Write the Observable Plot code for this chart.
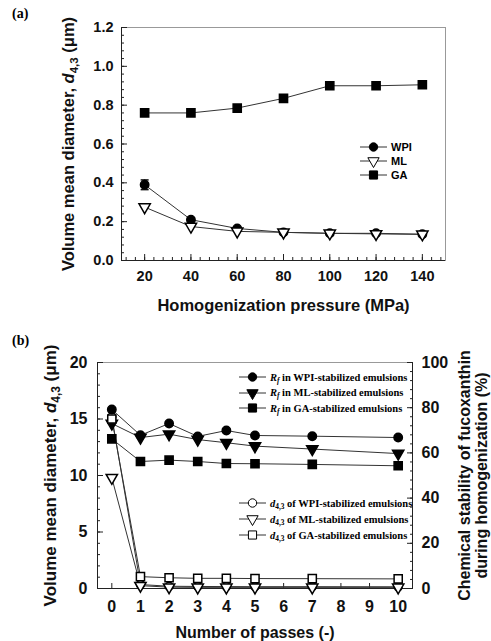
<!DOCTYPE html>
<html><head><meta charset="utf-8">
<script src="https://cdn.jsdelivr.net/npm/d3@7"></script>
<script src="https://cdn.jsdelivr.net/npm/@observablehq/plot@0.6"></script>
<style>
body{margin:0;background:#fff;}
#wrap{position:relative;width:491px;height:641px;overflow:hidden;background:#fff;}
#wrap svg{display:block;}
.panel{position:absolute;left:12px;font-family:"Liberation Serif","Times New Roman",serif;font-weight:bold;font-size:14px;}
.row{position:absolute;display:flex;align-items:center;white-space:nowrap;height:14px;}
.row svg{flex:none;}
.sans{font-family:"Liberation Sans",Arial,sans-serif;font-weight:bold;font-size:11px;}
.serif{font-family:"Liberation Serif","Times New Roman",serif;font-weight:bold;font-size:10.5px;}
sub{font-size:70%;vertical-align:-2px;line-height:0;}
</style></head><body><div id="wrap"></div><script>
// ---------- Data (a) ----------
const pressure = [20, 40, 60, 80, 100, 120, 140];
const wpiA = [0.39, 0.21, 0.165, 0.145, 0.14, 0.14, 0.135];
const wpiAErr = [0.025, 0.008, 0.005, 0, 0, 0, 0];
const mlA = [0.275, 0.175, 0.15, 0.145, 0.14, 0.137, 0.135];
const gaA = [0.76, 0.76, 0.785, 0.835, 0.9, 0.9, 0.905];
const xTicksA = [20, 40, 60, 80, 100, 120, 140];
const yTicksA = [0, 0.2, 0.4, 0.6, 0.8, 1.0, 1.2];
const seriesA = ["WPI", "ML", "GA"];

// ---------- Data (b) ----------
const passes = [0, 1, 2, 3, 4, 5, 7, 10];
const rfWPI = [79.2, 67.8, 73.0, 67.3, 69.9, 67.7, 67.4, 66.8];
const rfML = [73.0, 66.8, 68.3, 65.9, 64.5, 63.0, 61.7, 59.7];
const rfGA = [66.2, 56.2, 56.8, 56.2, 55.3, 55.2, 54.9, 54.3];
const dWPI = [15.2, 0.35, 0.2, 0.18, 0.17, 0.16, 0.16, 0.15];
const dML = [9.8, 0.25, 0.12, 0.1, 0.1, 0.1, 0.1, 0.1];
const dGA = [15.0, 1.05, 0.95, 0.9, 0.9, 0.88, 0.87, 0.85];
const xTicksB = [0, 1, 2, 3, 4, 5, 6, 7, 8, 9, 10];
const yTicksB = [0, 5, 10, 15, 20];
const rfTicks = [0, 20, 40, 60, 80, 100];
const legendB1 = ["WPI", "ML", "GA"];

// ---------- symbols ----------
const triDown = {draw(ctx, size) {
  const y = -Math.sqrt(size / (Math.sqrt(3) * 3));
  ctx.moveTo(0, -y * 2); ctx.lineTo(-Math.sqrt(3) * y, y); ctx.lineTo(Math.sqrt(3) * y, y); ctx.closePath();
}};
const capSym = {draw(ctx, size) { ctx.moveTo(-4, 0); ctx.lineTo(4, 0); }};

const wrap = document.getElementById("wrap");
const sansFont = '"Liberation Sans", Arial, sans-serif';
const lineColor = "#333";
const yLabelText = "Volume mean diameter, d4,3 (\u03bcm)";

function richLabel(svg, content, parts) {
  const t = Array.from(svg.querySelectorAll("text")).find(e => e.textContent === content);
  if (!t) return;
  t.textContent = "";
  for (const p of parts) {
    const ts = document.createElementNS("http://www.w3.org/2000/svg", "tspan");
    ts.textContent = p.t;
    if (p.i) ts.setAttribute("font-style", "italic");
    if (p.sub) { ts.setAttribute("font-size", "70%"); ts.setAttribute("dy", "4"); }
    if (p.up) ts.setAttribute("dy", "-4");
    t.appendChild(ts);
  }
}
const dLabel = [{t: "Volume mean diameter, "}, {t: "d", i: true}, {t: "4,3", sub: true}, {t: " (\u03bcm)", up: true}];

// ---------- Panel (a) ----------
const rowsA = [];
pressure.forEach((p, i) => {
  rowsA.push({x: p, y: wpiA[i], s: "WPI", e: wpiAErr[i]});
  rowsA.push({x: p, y: mlA[i], s: "ML", e: 0});
  rowsA.push({x: p, y: gaA[i], s: "GA", e: 0});
});
const xDomA = [10, 150], yDomA = [0, 1.2];
const plotA = Plot.plot({
  width: 491, height: 320,
  marginLeft: 121, marginRight: 46, marginTop: 27, marginBottom: 60,
  x: {domain: xDomA}, y: {domain: yDomA},
  style: {fontFamily: sansFont, background: "white", overflow: "visible"},
  marks: [
    Plot.frame({stroke: "#999"}),
    Plot.ruleX([xDomA[0]], {stroke: "#222"}),
    Plot.ruleY([yDomA[0]], {stroke: "#222"}),
    Plot.axisY(d3.range(0, 1.2001, 0.04), {tickSize: -3, fill: "none", stroke: "#222"}),
    Plot.axisY(yTicksA, {tickSize: -6, fill: "none", stroke: "#222"}),
    Plot.axisY(yTicksA, {tickSize: 0, tickPadding: 8, label: null, tickFormat: d3.format(".1f"), fontSize: 14.5, fontWeight: "bold", fill: "#111"}),
    Plot.axisX(d3.range(12, 150, 4), {tickSize: -3, fill: "none", stroke: "#222"}),
    Plot.axisX(xTicksA, {tickSize: -6, fill: "none", stroke: "#222"}),
    Plot.axisX(xTicksA, {tickSize: 0, tickPadding: 10, label: null, fontSize: 14.5, fontWeight: "bold", fill: "#111"}),
    Plot.text([yLabelText], {frameAnchor: "left", textAnchor: "middle", lineAnchor: "middle", rotate: -90, dx: -53, fontSize: 16.5, fontWeight: "bold", fill: "#111"}),
    Plot.text(["Homogenization pressure (MPa)"], {frameAnchor: "bottom", textAnchor: "middle", lineAnchor: "middle", dy: 45, fontSize: 16.5, fontWeight: "bold", fill: "#111"}),
    Plot.line(rowsA, {x: "x", y: "y", z: "s", stroke: lineColor, strokeWidth: 1}),
    Plot.ruleX(rowsA.filter(d => d.e > 0.01), {x: "x", y1: d => d.y - d.e, y2: d => d.y + d.e, stroke: "#111"}),
    Plot.dot(rowsA.filter(d => d.e > 0.01), {x: "x", y: d => d.y + d.e, symbol: capSym, stroke: "#111", r: 3}),
    Plot.dot(rowsA.filter(d => d.e > 0.01), {x: "x", y: d => d.y - d.e, symbol: capSym, stroke: "#111", r: 3}),
    Plot.dot(rowsA.filter(d => d.s === "WPI"), {x: "x", y: "y", symbol: "circle", r: 4.2, fill: "#000", stroke: "#000"}),
    Plot.dot(rowsA.filter(d => d.s === "ML"), {x: "x", y: "y", symbol: triDown, r: 4.2, fill: "#fff", stroke: "#000"}),
    Plot.dot(rowsA.filter(d => d.s === "GA"), {x: "x", y: "y", symbol: "square", r: 4.6, fill: "#000", stroke: "#000"})
  ]
});
richLabel(plotA, yLabelText, dLabel);
wrap.appendChild(plotA);

// ---------- Panel (b) ----------
const rowsRf = [], rowsD = [];
passes.forEach((p, i) => {
  rowsRf.push({x: p, v: rfWPI[i], s: "WPI"}, {x: p, v: rfML[i], s: "ML"}, {x: p, v: rfGA[i], s: "GA"});
  rowsD.push({x: p, y: dWPI[i], s: "WPI"}, {x: p, y: dML[i], s: "ML"}, {x: p, y: dGA[i], s: "GA"});
});
const rfToY = v => v / 5;
const xDomB = [-0.5, 10.5], yDomB = [0, 20];
const plotB = Plot.plot({
  width: 491, height: 321,
  marginLeft: 97, marginRight: 79, marginTop: 42, marginBottom: 53,
  x: {domain: xDomB}, y: {domain: yDomB},
  style: {fontFamily: sansFont, background: "white", overflow: "visible"},
  marks: [
    Plot.frame({stroke: "#999"}),
    Plot.ruleX([xDomB[0]], {stroke: "#222"}),
    Plot.ruleX([xDomB[1]], {stroke: "#222"}),
    Plot.ruleY([yDomB[0]], {stroke: "#222"}),
    Plot.axisY(d3.range(0, 20.01, 1), {tickSize: -3, fill: "none", stroke: "#222"}),
    Plot.axisY(yTicksB, {tickSize: -6, fill: "none", stroke: "#222"}),
    Plot.axisY(yTicksB, {tickSize: 0, tickPadding: 10, label: null, fontSize: 16, fontWeight: "bold", fill: "#111"}),
    Plot.axisY(d3.range(0, 100.01, 4).map(rfToY), {anchor: "right", tickSize: -3, fill: "none", stroke: "#222"}),
    Plot.axisY(rfTicks.map(rfToY), {anchor: "right", tickSize: -6, fill: "none", stroke: "#222"}),
    Plot.axisY(rfTicks.map(rfToY), {anchor: "right", tickSize: 0, tickPadding: 9, label: null, tickFormat: d => String(Math.round(d * 5)), fontSize: 16, fontWeight: "bold", fill: "#111"}),
    Plot.axisX(xTicksB, {tickSize: -5, fill: "none", stroke: "#222"}),
    Plot.axisX(xTicksB, {tickSize: 0, tickPadding: 12, label: null, fontSize: 16, fontWeight: "bold", fill: "#111"}),
    Plot.text([yLabelText], {frameAnchor: "left", textAnchor: "middle", lineAnchor: "middle", rotate: -90, dx: -47, fontSize: 17, fontWeight: "bold", fill: "#111"}),
    Plot.text(["Chemical stability of fucoxanthin"], {frameAnchor: "right", textAnchor: "middle", lineAnchor: "middle", rotate: -90, dx: 52, fontSize: 16, fontWeight: "bold", fill: "#111"}),
    Plot.text(["during homogenization (%)"], {frameAnchor: "right", textAnchor: "middle", lineAnchor: "middle", rotate: -90, dx: 69, fontSize: 16, fontWeight: "bold", fill: "#111"}),
    Plot.text(["Number of passes (-)"], {frameAnchor: "bottom", textAnchor: "middle", lineAnchor: "middle", dy: 44, fontSize: 16, fontWeight: "bold", fill: "#111"}),
    Plot.line(rowsRf, {x: "x", y: d => rfToY(d.v), z: "s", stroke: lineColor, strokeWidth: 1}),
    Plot.line(rowsD, {x: "x", y: "y", z: "s", stroke: lineColor, strokeWidth: 1}),
    Plot.dot(rowsD.filter(d => d.s === "WPI"), {x: "x", y: "y", symbol: "circle", r: 4, fill: "#fff", stroke: "#000"}),
    Plot.dot(rowsD.filter(d => d.s === "ML"), {x: "x", y: "y", symbol: triDown, r: 4.2, fill: "#fff", stroke: "#000"}),
    Plot.dot(rowsRf.filter(d => d.s === "GA"), {x: "x", y: d => rfToY(d.v), symbol: "square", r: 4.6, fill: "#000", stroke: "#000"}),
    Plot.dot(rowsRf.filter(d => d.s === "ML"), {x: "x", y: d => rfToY(d.v), symbol: triDown, r: 4.2, fill: "#000", stroke: "#000"}),
    Plot.dot(rowsRf.filter(d => d.s === "WPI"), {x: "x", y: d => rfToY(d.v), symbol: "circle", r: 4.2, fill: "#000", stroke: "#000"}),
    Plot.dot(rowsD.filter(d => d.s === "GA"), {x: "x", y: "y", symbol: "square", r: 4.6, fill: "#fff", stroke: "#000"})
  ]
});
richLabel(plotB, yLabelText, dLabel);
wrap.appendChild(plotB);

// ---------- panel letters ----------
for (const [t, top] of [["(a)", 6], ["(b)", 333]]) {
  const d = document.createElement("div"); d.className = "panel"; d.style.top = top + "px"; d.textContent = t; wrap.appendChild(d);
}

// ---------- legends ----------
function icon(sym, filled) {
  const s = d3.create("svg").attr("width", 27).attr("height", 14);
  s.append("line").attr("x1", 0).attr("x2", 27).attr("y1", 7).attr("y2", 7).attr("stroke", lineColor);
  const type = sym === "circle" ? d3.symbolCircle : sym === "square" ? d3.symbolSquare : triDown;
  const size = sym === "square" ? Math.PI * 4.6 * 4.6 : Math.PI * 4.2 * 4.2;
  s.append("path").attr("d", d3.symbol(type, size)()).attr("transform", "translate(13.5,7)")
    .attr("fill", filled ? "#000" : "#fff").attr("stroke", "#000");
  return s.node();
}
function addRow(left, cy, sym, filled, html, cls) {
  const r = document.createElement("div"); r.className = "row " + cls;
  r.style.left = left + "px"; r.style.top = (cy - 7) + "px";
  r.appendChild(icon(sym, filled));
  const sp = document.createElement("span"); sp.style.marginLeft = "4px"; sp.innerHTML = html; r.appendChild(sp);
  wrap.appendChild(r);
}
const symName = {WPI: "circle", ML: "tri", GA: "square"};
seriesA.forEach((s, i) => addRow(360, 147 + i * 14, symName[s], s !== "ML", s, "sans"));
legendB1.forEach((s, i) => addRow(239, 377 + i * 15.5, symName[s], true, `<i>R<sub>f</sub></i> in ${s}-stabilized emulsions`, "serif"));
legendB1.forEach((s, i) => addRow(239, 503 + i * 16, symName[s], false, `<i>d</i><sub>4,3</sub> of ${s}-stabilized emulsions`, "serif"));
</script></body></html>
